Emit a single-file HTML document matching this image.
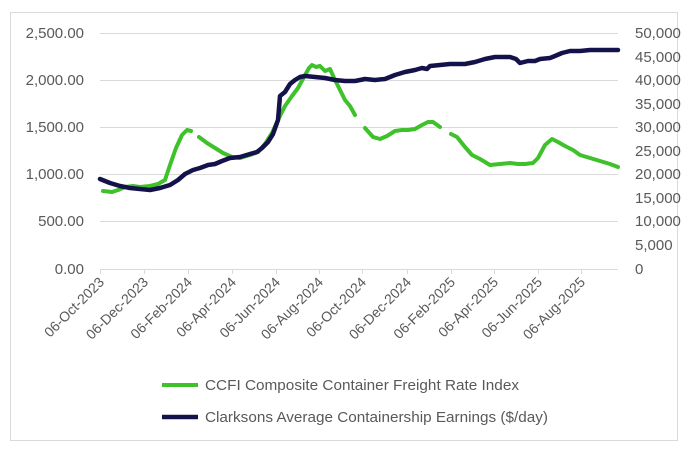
<!DOCTYPE html>
<html><head><meta charset="utf-8"><style>
html,body{margin:0;padding:0;background:#fff;}
svg{display:block;font-family:"Liberation Sans",sans-serif;}
</style></head><body>
<svg width="700" height="452" viewBox="0 0 700 452">
<rect x="10.5" y="12.5" width="667" height="428" fill="#fff" stroke="#d9d9d9"/>
<g stroke="#d9d9d9" stroke-width="1">
<line x1="100" y1="33.5" x2="618" y2="33.5"/>
<line x1="100" y1="80.5" x2="618" y2="80.5"/>
<line x1="100" y1="127.5" x2="618" y2="127.5"/>
<line x1="100" y1="174.5" x2="618" y2="174.5"/>
<line x1="100" y1="221.5" x2="618" y2="221.5"/>
<line x1="100" y1="269.5" x2="618" y2="269.5"/>
<g>
<line x1="100.5" y1="269" x2="100.5" y2="274"/><line x1="144.5" y1="269" x2="144.5" y2="274"/>
<line x1="188.5" y1="269" x2="188.5" y2="274"/><line x1="232.5" y1="269" x2="232.5" y2="274"/>
<line x1="276.5" y1="269" x2="276.5" y2="274"/><line x1="319.5" y1="269" x2="319.5" y2="274"/>
<line x1="362.5" y1="269" x2="362.5" y2="274"/><line x1="407.5" y1="269" x2="407.5" y2="274"/>
<line x1="451.5" y1="269" x2="451.5" y2="274"/><line x1="494.5" y1="269" x2="494.5" y2="274"/>
<line x1="538.5" y1="269" x2="538.5" y2="274"/><line x1="581.5" y1="269" x2="581.5" y2="274"/>
</g></g>
<g fill="#595959" font-size="15" text-anchor="end">
<text x="84" y="38">2,500.00</text><text x="84" y="85">2,000.00</text>
<text x="84" y="132">1,500.00</text><text x="84" y="179">1,000.00</text>
<text x="84" y="226">500.00</text><text x="84" y="274">0.00</text>
</g>
<g fill="#595959" font-size="15" text-anchor="start">
<text x="635" y="38">50,000</text><text x="635" y="62">45,000</text><text x="635" y="85">40,000</text>
<text x="635" y="109">35,000</text><text x="635" y="132">30,000</text><text x="635" y="156">25,000</text>
<text x="635" y="179">20,000</text><text x="635" y="203">15,000</text><text x="635" y="226">10,000</text>
<text x="635" y="250">5,000</text><text x="635" y="274">0</text>
</g>
<g fill="#595959" font-size="14" text-anchor="end">
<text transform="translate(105,283) rotate(-45)">06-Oct-2023</text>
<text transform="translate(149,283) rotate(-45)">06-Dec-2023</text>
<text transform="translate(193,283) rotate(-45)">06-Feb-2024</text>
<text transform="translate(237,283) rotate(-45)">06-Apr-2024</text>
<text transform="translate(281,283) rotate(-45)">06-Jun-2024</text>
<text transform="translate(324,283) rotate(-45)">06-Aug-2024</text>
<text transform="translate(367,283) rotate(-45)">06-Oct-2024</text>
<text transform="translate(412,283) rotate(-45)">06-Dec-2024</text>
<text transform="translate(456,283) rotate(-45)">06-Feb-2025</text>
<text transform="translate(499,283) rotate(-45)">06-Apr-2025</text>
<text transform="translate(543,283) rotate(-45)">06-Jun-2025</text>
<text transform="translate(586,283) rotate(-45)">06-Aug-2025</text>
</g>
<g fill="none" stroke="#3ec12a" stroke-width="4" stroke-linejoin="round" stroke-linecap="round">
<polyline points="103,191 112,192 118,190 125,187 133,186 140,187 150,186 158,184 165,180 170,165 176,148 182,135 187,130 191,131"/>
<polyline points="199,137 207,143 215,148 223,153 232,157 240,158 250,155 258,152 265,144 272,133 278,120 285,106 292,96 298,88 304,77 309,68 312,65 316,67 320,66 325,71 330,69 335,80 340,90 345,100 350,106 355,115"/>
<polyline points="365,128 373,137 380,139 387,136 395,131 402,130 408,130 415,129 422,125 428,122 433,122 440,127"/>
<polyline points="451,134 457,137 465,147 472,155 480,159 490,165 500,164 510,163 518,164 525,164 533,163 538,158 545,145 552,139 558,142 565,146 573,150 580,155 590,158 600,161 610,164 618,167"/>
</g>
<polyline fill="none" stroke="#14124a" stroke-width="4.5" stroke-linejoin="round" stroke-linecap="round" points="100,179 110,183 120,186 130,188 140,189 150,190 160,188 170,185 178,180 185,174 193,170 200,168 208,165 215,164 222,161 230,158 240,157 250,154 257,152 262,148 268,142 273,134 278,120 280,96 285,92 290,84 295,80 300,77 305,76 315,77 325,78 335,80 345,81 355,81 365,79 375,80 385,79 395,75 405,72 415,70 422,68 427,69 430,66 440,65 450,64 465,64 475,62 485,59 495,57 510,57 516,59 520,63 528,61 535,61 540,59 550,58 555,56 562,53 570,51 580,51 590,50 600,50 618,50"/>
<line x1="162" y1="385" x2="198" y2="385" stroke="#3ec12a" stroke-width="4"/>
<line x1="162" y1="417" x2="198" y2="417" stroke="#14124a" stroke-width="4.5"/>
<g fill="#595959" font-size="15">
<text x="205" y="390" textLength="314" lengthAdjust="spacingAndGlyphs">CCFI Composite Container Freight Rate Index</text>
<text x="205" y="422" textLength="343" lengthAdjust="spacingAndGlyphs">Clarksons Average Containership Earnings ($/day)</text>
</g>
</svg>
</body></html>
